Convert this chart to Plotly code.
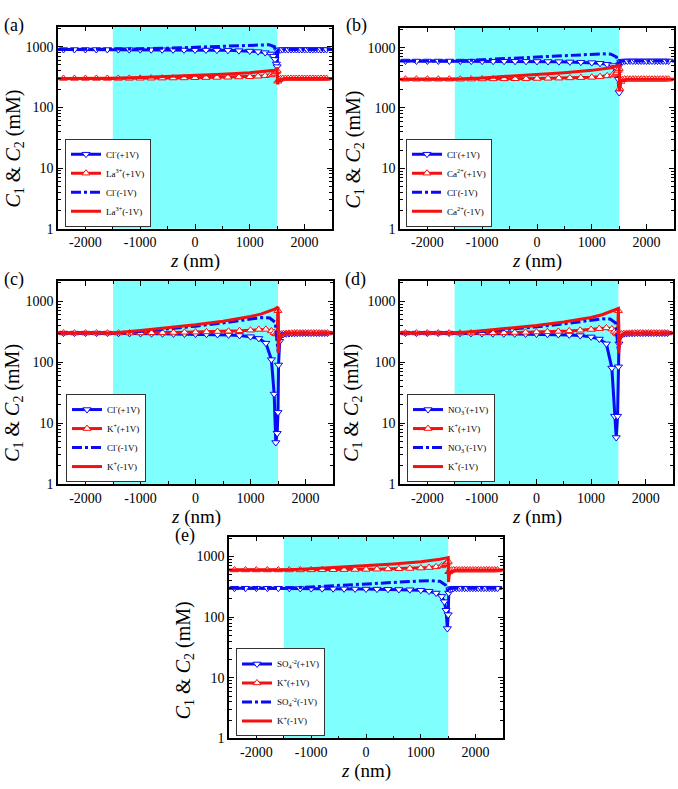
import plotly.graph_objects as go

# ---------------- data ----------------
Z_MARK = [-2400, -2200, -2000, -1800, -1600,
          -1400, -1200, -1000, -800, -600, -400, -200, 0, 200, 400, 600, 800, 1000,
          1150, 1280, 1380, 1430, 1460, 1485, 1500,
          1510, 1530, 1560,
          1600, 1650, 1700, 1750, 1800, 1850, 1900, 1950, 2000, 2050, 2100, 2150, 2200, 2250, 2300, 2350, 2400]
Z_LINE = [-2500, -1500, -1000, -500, 0, 500, 1000, 1200, 1350, 1450, 1500, 1505, 1520, 1560, 1650, 2500]
PORE = [-1500, 1500]

# (a) LaCl3
A_CL_P = [900, 900, 900, 900, 900,
          898, 896, 894, 892, 890, 888, 886, 884, 882, 878, 872, 862, 848,
          830, 800, 760, 700, 620, 520, 470,
          860, 880, 890,
          900, 900, 900, 900, 900, 900, 900, 900, 900, 900, 900, 900, 900, 900, 900, 900, 900]
A_LA_P = [300, 300, 300, 300, 300,
          300, 301, 302, 303, 304, 305, 306, 308, 310, 312, 314, 317, 320,
          326, 333, 342, 352, 365, 385, 405,
          270, 285, 295,
          300, 300, 300, 300, 300, 300, 300, 300, 300, 300, 300, 300, 300, 300, 300, 300, 300]
A_CL_M = [900, 900, 920, 945, 975, 1010, 1050, 1070, 1080, 1000, 650, 830, 870, 890, 900, 900]
A_LA_M = [300, 300, 310, 322, 336, 352, 372, 385, 398, 410, 430, 240, 270, 290, 300, 300]

# (b) CaCl2
B_CL_P = [600, 600, 600, 600, 600,
          598, 597, 596, 595, 594, 593, 592, 590, 588, 585, 580, 574, 565,
          550, 530, 505, 470, 400, 300, 180,
          520, 580, 595,
          600, 600, 600, 600, 600, 600, 600, 600, 600, 600, 600, 600, 600, 600, 600, 600, 600]
B_CA_P = [300, 300, 300, 300, 300,
          300, 301, 302, 303, 304, 305, 306, 308, 310, 312, 315, 318, 322,
          330, 340, 352, 365, 385, 420, 450,
          210, 275, 295,
          300, 300, 300, 300, 300, 300, 300, 300, 300, 300, 300, 300, 300, 300, 300, 300, 300]
B_CL_M = [600, 600, 630, 660, 700, 740, 780, 790, 780, 700, 480, 560, 590, 600, 600, 600]
B_CA_M = [300, 300, 315, 335, 358, 385, 420, 440, 465, 490, 510, 190, 260, 290, 300, 300]

# (c) KCl
C_CL_P = [300, 300, 300, 300, 300,
          298, 296, 294, 293, 292, 291, 290, 289, 287, 284, 280, 274, 262,
          245, 205, 110, 30, 4.8, 6.8, 15,
          90, 220, 275,
          288, 292, 295, 297, 298, 299, 300, 300, 300, 300, 300, 300, 300, 300, 300, 300, 300]
C_K_P = [300, 300, 300, 300, 300,
         300, 301, 302, 303, 305, 307, 309, 311, 314, 318, 322, 328, 335,
         345, 345, 325, 305, 292, 290, 700,
         300, 285, 290,
         294, 296, 298, 299, 300, 300, 300, 300, 300, 300, 300, 300, 300, 300, 300, 300, 300]
C_CL_M = [300, 300, 320, 350, 390, 440, 510, 540, 530, 450, 150, 200, 260, 290, 300, 300]
C_K_M = [300, 300, 330, 365, 410, 470, 560, 620, 690, 750, 800, 140, 220, 280, 300, 300]

# (d) KNO3
D_NO3_P = [300, 300, 300, 300, 300,
           298, 296, 294, 293, 292, 291, 290, 289, 287, 284, 280, 273, 260,
           240, 200, 80, 13, 5.8, 13, 84,
           200, 260, 285,
           292, 295, 297, 298, 299, 300, 300, 300, 300, 300, 300, 300, 300, 300, 300, 300, 300]
D_K_P = [300, 300, 300, 300, 300,
         300, 301, 302, 303, 305, 307, 309, 312, 315, 320, 326, 334, 344,
         355, 365, 350, 320, 300, 290, 700,
         300, 285, 290,
         294, 296, 298, 299, 300, 300, 300, 300, 300, 300, 300, 300, 300, 300, 300, 300, 300]
D_NO3_M = [300, 300, 318, 345, 380, 425, 485, 515, 510, 440, 150, 200, 260, 290, 300, 300]
D_K_M = [300, 300, 328, 360, 400, 455, 540, 600, 670, 730, 760, 140, 220, 280, 300, 300]

# (e) K2SO4
E_SO4_P = [300, 300, 300, 300, 300,
           298, 297, 296, 295, 294, 293, 292, 291, 290, 288, 286, 283, 278,
           268, 250, 220, 180, 130, 65, 110,
           250, 285, 295,
           300, 300, 300, 300, 300, 300, 300, 300, 300, 300, 300, 300, 300, 300, 300, 300, 300]
E_K_P = [600, 600, 600, 600, 600,
         600, 601, 602, 604, 606, 608, 611, 614, 618, 623, 628, 635, 645,
         658, 675, 700, 730, 760, 800, 830,
         560, 580, 595,
         600, 600, 600, 600, 600, 600, 600, 600, 600, 600, 600, 600, 600, 600, 600, 600, 600]
E_SO4_M = [300, 300, 315, 335, 355, 375, 395, 400, 390, 340, 260, 280, 295, 300, 300, 300]
E_K_M = [600, 600, 630, 665, 705, 755, 820, 860, 900, 940, 960, 380, 500, 570, 600, 600]

X_TICKS = [-2000, -1000, 0, 1000, 2000]
X_TICKTEXT = ["-2000", "-1000", "0", "1000", "2000"]
Y_TICKS = [1, 10, 100, 1000]
Y_TICKTEXT = ["1", "10", "100", "1000"]

ANION_LABELS = ["Cl<sup>-</sup>", "Cl<sup>-</sup>", "Cl<sup>-</sup>", "NO<sub>3</sub><sup>-</sup>",
                "SO<sub>4</sub><sup>-2</sup>"]
CATION_LABELS = ["La<sup>3+</sup>", "Ca<sup>2+</sup>", "K<sup>+</sup>", "K<sup>+</sup>", "K<sup>+</sup>"]
PANEL_LABELS = ["(a)", "(b)", "(c)", "(d)", "(e)"]
Y_TITLE = "<i>C</i><sub>1</sub> & <i>C</i><sub>2</sub> (mM)"
X_TITLE = "<i>z</i> (nm)"

# ---------------- layout geometry (pixels) ----------------
W, H = 678, 789
FONT = "Liberation Serif, Times New Roman, serif"
BLUE = "#0a0af5"
RED = "#f51010"
CYAN = "#80FFFF"

panels = [
    dict(x=(58, 332), y=(27, 231), leg=(65, 229), lab=(2, 26), yt=(14, 150), xt=251,
         an_p=A_CL_P, ca_p=A_LA_P, an_m=A_CL_M, ca_m=A_LA_M),
    dict(x=(400, 674), y=(28, 231), leg=(406, 229), lab=(344, 26), yt=(354, 151), xt=251,
         an_p=B_CL_P, ca_p=B_CA_P, an_m=B_CL_M, ca_m=B_CA_M),
    dict(x=(58, 333), y=(284, 489), leg=(66, 487), lab=(2, 282), yt=(14, 407), xt=509,
         an_p=C_CL_P, ca_p=C_K_P, an_m=C_CL_M, ca_m=C_K_M),
    dict(x=(400, 673), y=(284, 489), leg=(407, 487), lab=(343, 282), yt=(353, 407), xt=509,
         an_p=D_NO3_P, ca_p=D_K_P, an_m=D_NO3_M, ca_m=D_K_M),
    dict(x=(229, 503), y=(542, 746), leg=(236, 744), lab=(173, 541), yt=(184, 667), xt=766,
         an_p=E_SO4_P, ca_p=E_K_P, an_m=E_SO4_M, ca_m=E_K_M),
]

fig = go.Figure()
annotations = []
shapes = []
layout_upd = {}

for i, p in enumerate(panels):
    n = i + 1
    xa = "x" if n == 1 else f"x{n}"
    ya = "y" if n == 1 else f"y{n}"
    xkey = "xaxis" if n == 1 else f"xaxis{n}"
    ykey = "yaxis" if n == 1 else f"yaxis{n}"
    lkey = "legend" if n == 1 else f"legend{n}"

    common = dict(xaxis=xa, yaxis=ya, legend=lkey)
    fig.add_trace(go.Scatter(
        x=Z_MARK, y=p["an_p"], mode="lines+markers",
        name=f"{ANION_LABELS[i]}(+1V)",
        line=dict(color=BLUE, width=3),
        marker=dict(symbol="triangle-down", size=7, color="white",
                    line=dict(color=BLUE, width=1)),
        **common))
    fig.add_trace(go.Scatter(
        x=Z_MARK, y=p["ca_p"], mode="lines+markers",
        name=f"{CATION_LABELS[i]}(+1V)",
        line=dict(color=RED, width=3),
        marker=dict(symbol="triangle-up", size=7, color="white",
                    line=dict(color=RED, width=1)),
        **common))
    fig.add_trace(go.Scatter(
        x=Z_LINE, y=p["an_m"], mode="lines",
        name=f"{ANION_LABELS[i]}(-1V)",
        line=dict(color=BLUE, width=3, dash="10px,3px,3px,3px"),
        **common))
    fig.add_trace(go.Scatter(
        x=Z_LINE, y=p["ca_m"], mode="lines",
        name=f"{CATION_LABELS[i]}(-1V)",
        line=dict(color=RED, width=3),
        **common))

    axis_common = dict(
        showline=True, linecolor="black", linewidth=1.5, mirror="allticks",
        ticks="inside", ticklen=5, tickwidth=1.2, tickcolor="black",
        showgrid=False, zeroline=False,
        tickfont=dict(family=FONT, size=14, color="black"),
    )
    layout_upd[xkey] = dict(
        domain=[p["x"][0] / W, p["x"][1] / W],
        anchor=ya, range=[-2500, 2500],
        tickmode="array", tickvals=X_TICKS, ticktext=X_TICKTEXT,
        minor=dict(ticks="inside", ticklen=3, tickcolor="black", dtick=500, tick0=0),
        **axis_common)
    layout_upd[ykey] = dict(
        domain=[1 - p["y"][1] / H, 1 - p["y"][0] / H],
        anchor=xa, type="log", range=[0, 3.33],
        tickmode="array", tickvals=Y_TICKS, ticktext=Y_TICKTEXT,
        minor=dict(ticks="inside", ticklen=3, tickcolor="black", dtick="D1"),
        **axis_common)
    layout_upd[lkey] = dict(
        x=p["leg"][0] / W, y=1 - p["leg"][1] / H, xanchor="left", yanchor="bottom",
        xref="paper", yref="paper",
        bgcolor="white", bordercolor="#333333", borderwidth=1,
        font=dict(family=FONT, size=9, color="black"),
        tracegroupgap=0, itemwidth=30,
    )

    shapes.append(dict(type="rect", xref=xa, yref=f"{ya} domain",
                       x0=PORE[0], x1=PORE[1], y0=0, y1=1,
                       fillcolor=CYAN, line=dict(width=0), layer="below"))
    annotations.append(dict(text=PANEL_LABELS[i], xref="paper", yref="paper",
                            x=p["lab"][0] / W, y=1 - p["lab"][1] / H,
                            xanchor="left", yanchor="middle", showarrow=False,
                            font=dict(family=FONT, size=18, color="black")))
    annotations.append(dict(text=Y_TITLE, xref="paper", yref="paper",
                            x=p["yt"][0] / W, y=1 - p["yt"][1] / H, textangle=-90,
                            xanchor="center", yanchor="middle", showarrow=False,
                            font=dict(family=FONT, size=20, color="black")))
    annotations.append(dict(text=X_TITLE, xref="paper", yref="paper",
                            x=(p["x"][0] + p["x"][1]) / 2 / W, y=1 - p["xt"] / H,
                            xanchor="center", yanchor="top", showarrow=False,
                            font=dict(family=FONT, size=19, color="black")))

fig.update_layout(
    width=W, height=H, margin=dict(l=0, r=0, t=0, b=0),
    paper_bgcolor="white", plot_bgcolor="white",
    showlegend=True, shapes=shapes, annotations=annotations,
    **layout_upd,
)

fig.write_html("out.html")
